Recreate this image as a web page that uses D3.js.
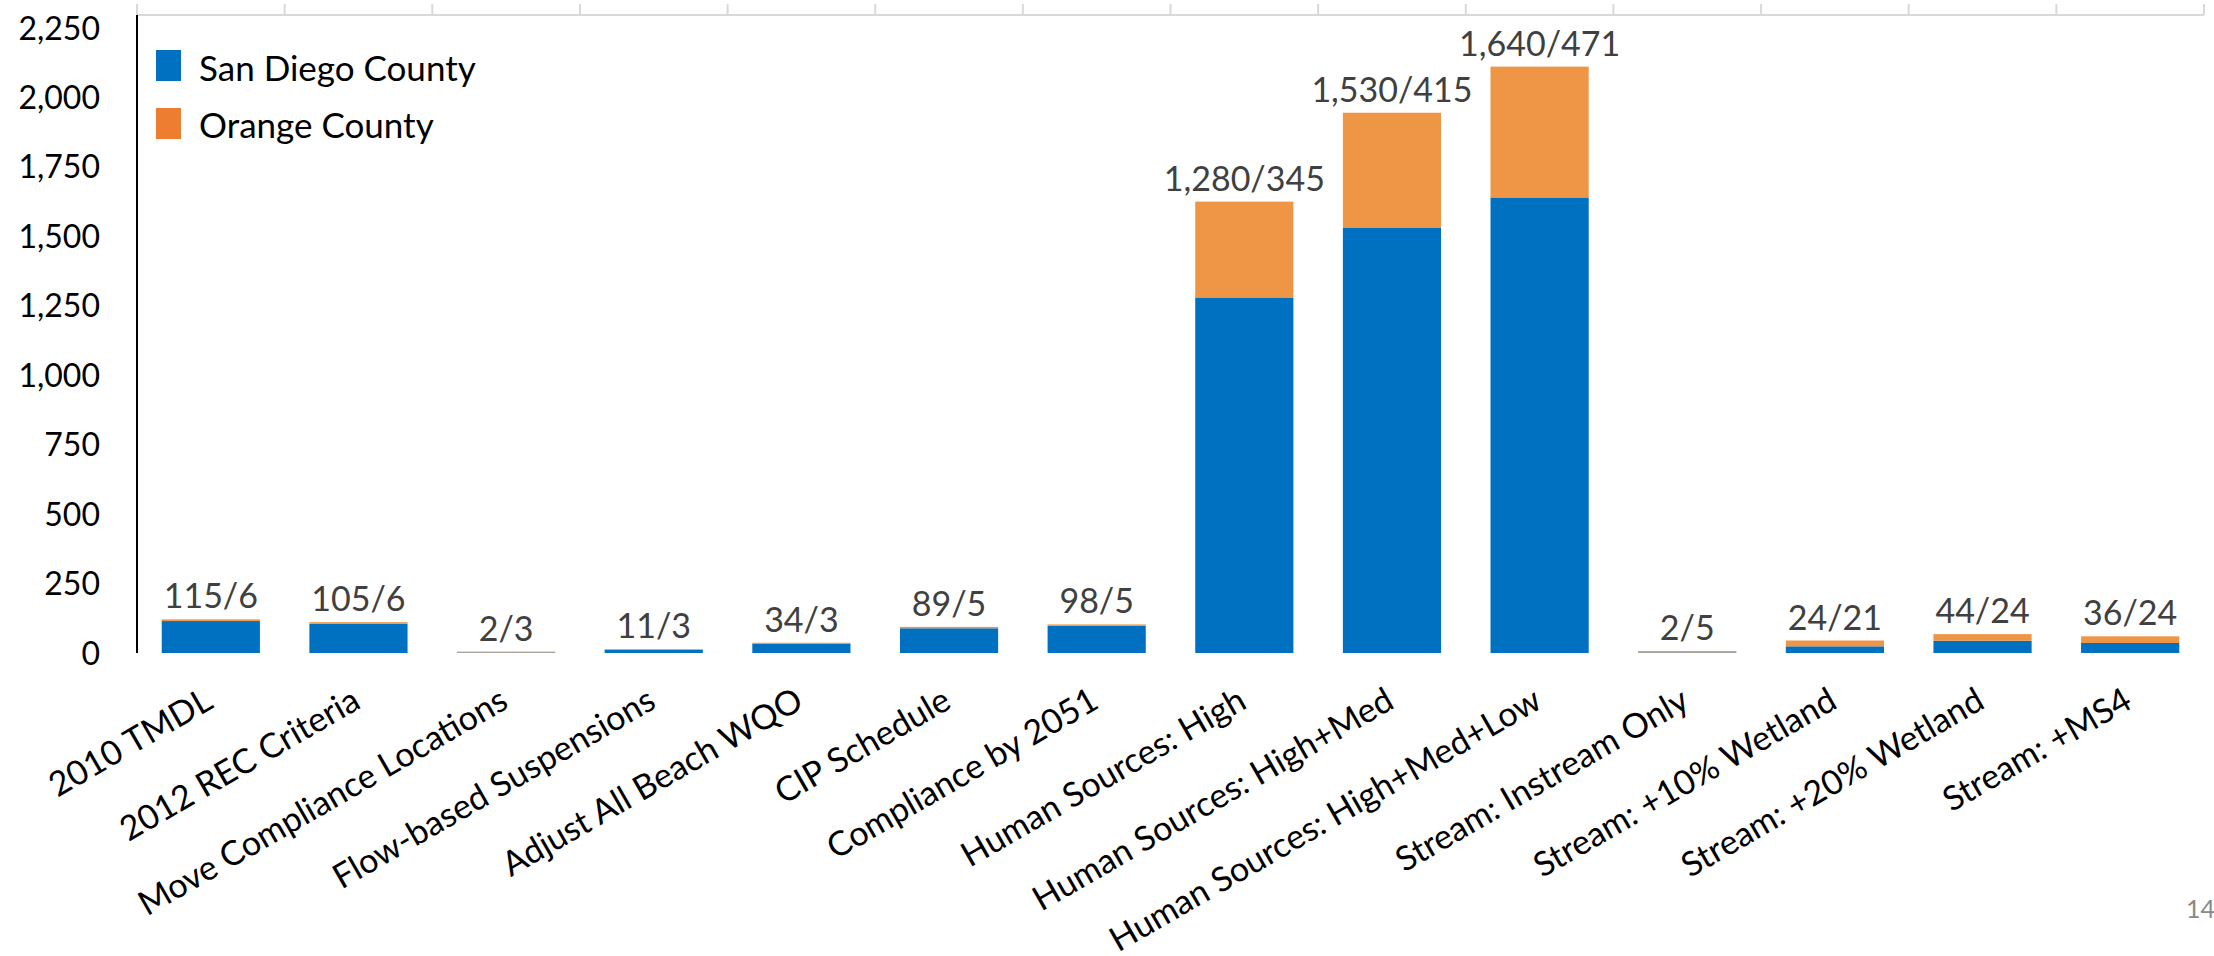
<!DOCTYPE html>
<html>
<head>
<meta charset="utf-8">
<script src="https://cdn.jsdelivr.net/npm/d3@7"></script>
<style>
  html, body { margin: 0; padding: 0; background: #ffffff; }
  svg { display: block; }
  text { font-family: Lato, "Open Sans", sans-serif; }
</style>
</head>
<body>
<svg id="chart" width="2214" height="956"></svg>
<script>
const categories = [
  "2010 TMDL", "2012 REC Criteria", "Move Compliance Locations", "Flow-based Suspensions",
  "Adjust All Beach WQO", "CIP Schedule", "Compliance by 2051", "Human Sources: High",
  "Human Sources: High+Med", "Human Sources: High+Med+Low", "Stream: Instream Only",
  "Stream: +10% Wetland", "Stream: +20% Wetland", "Stream: +MS4"
];
const sanDiego = [115, 105, 2, 11, 34, 89, 98, 1280, 1530, 1640, 2, 24, 44, 36];
const orange   = [6, 6, 3, 3, 3, 5, 5, 345, 415, 471, 5, 21, 24, 24];
const seriesNames = ["San Diego County", "Orange County"];
const barColors = ["#0070C0", "#EE9646"];
const legendColors = ["#0070C0", "#ED7D31"];
const yTicks = [0, 250, 500, 750, 1000, 1250, 1500, 1750, 2000, 2250];
const pageNumber = "14";

const svg = d3.select("#chart");
const fmt = d3.format(",");

const x = d3.scaleBand().domain(categories).range([137, 2204]).paddingInner(0.335).paddingOuter(0.1675);
const y = d3.scaleLinear().domain([0, 2250]).range([653, 28]);

const rows = categories.map((c, i) => ({ cat: c, sd: sanDiego[i], oc: orange[i] }));
const stack = d3.stack().keys(["sd", "oc"])(rows);

// top frame line with category ticks
const topY = y(2250) - 13;
const xLeft = x.range()[0], xRight = x.range()[1];
svg.append("line").attr("x1", xLeft).attr("x2", xRight).attr("y1", topY).attr("y2", topY)
  .attr("stroke", "#D9D9D9").attr("stroke-width", 2);
const boundaries = categories.map(c => x(c) - x.step() * x.paddingInner() / 2).concat([xRight]);
svg.append("g").selectAll("line").data(boundaries).join("line")
  .attr("x1", d => d).attr("x2", d => d).attr("y1", topY - 11).attr("y2", topY)
  .attr("stroke", "#D9D9D9").attr("stroke-width", 2);

// bars
stack.forEach((layer, si) => {
  svg.append("g").attr("fill", barColors[si]).selectAll("rect").data(layer).join("rect")
    .attr("x", d => x(d.data.cat))
    .attr("width", x.bandwidth())
    .attr("y", d => y(d[1]))
    .attr("height", d => y(d[0]) - y(d[1]));
});

// y axis line
svg.append("line").attr("x1", xLeft).attr("x2", xLeft).attr("y1", topY).attr("y2", y(0))
  .attr("stroke", "#000").attr("stroke-width", 2);

// y tick labels
svg.append("g").selectAll("text").data(yTicks).join("text")
  .attr("x", 100).attr("y", d => y(d)).attr("dy", "0.36em")
  .attr("text-anchor", "end").attr("font-size", 32).attr("fill", "#000")
  .text(d => fmt(d));

// data labels
svg.append("g").selectAll("text").data(rows).join("text")
  .attr("x", d => x(d.cat) + x.bandwidth() / 2)
  .attr("y", d => y(d.sd + d.oc) - 11)
  .attr("text-anchor", "middle").attr("font-size", 34).attr("fill", "#404040")
  .text(d => fmt(d.sd) + "/" + fmt(d.oc));

// category labels
svg.append("g").selectAll("text").data(categories).join("text")
  .attr("transform", d => `translate(${x(d) + x.bandwidth() / 2 + 4},707) rotate(-30)`)
  .attr("text-anchor", "end").attr("font-size", 34).attr("fill", "#000")
  .text(d => d);

// legend
const lg = svg.append("g");
seriesNames.forEach((n, i) => {
  lg.append("rect").attr("x", 156).attr("y", 50 + i * 58).attr("width", 25).attr("height", 31)
    .attr("fill", legendColors[i]);
  lg.append("text").attr("x", 199).attr("y", 81 + i * 57).attr("font-size", 35).attr("fill", "#000")
    .text(n);
});

// page number
svg.append("text").attr("x", 2186).attr("y", 918).attr("font-size", 25).attr("fill", "#898989").text(pageNumber);
</script>
</body>
</html>
